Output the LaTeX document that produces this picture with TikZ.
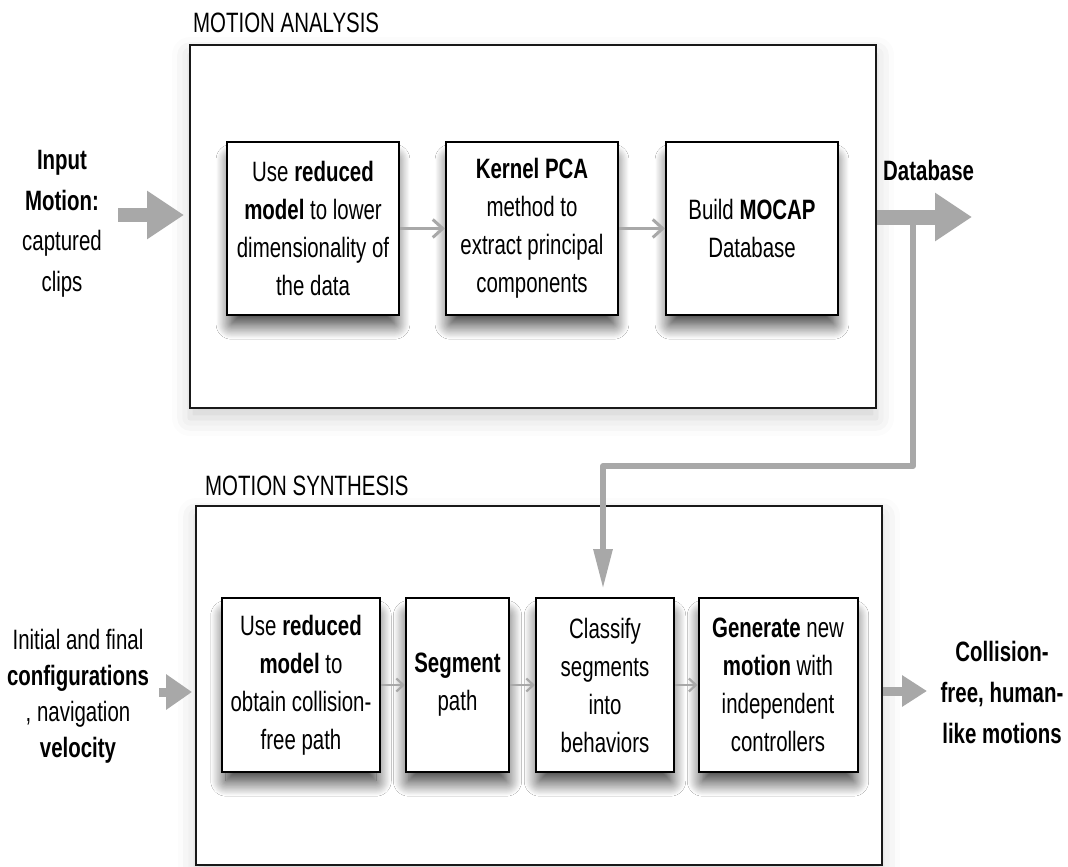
\documentclass[tikz,border=0pt]{standalone}
\usepackage{fontspec}
\setmainfont[FakeStretch=0.73]{Liberation Sans}
\usetikzlibrary{arrows.meta,shadows.blur}
\definecolor{arrgray}{RGB}{168,168,168}
\begin{document}
\begin{tikzpicture}[x=1pt,y=-1pt,
  txt/.style={font=\fontsize{28}{38}\selectfont, align=center, inner sep=0pt},
  stepbox/.style={txt, draw=black, line width=2pt, fill=white,
    blur shadow={shadow xshift=0pt, shadow yshift=-14pt, shadow scale=0.95,
      shadow blur radius=16pt, shadow blur steps=24, shadow opacity=85}},
  outerbox/.style={draw=black!90, line width=2pt, fill=white, inner sep=0pt,
    minimum width=686pt,
    blur shadow={shadow xshift=0pt, shadow yshift=-10pt, shadow blur radius=18pt, shadow opacity=18}},
  grouplabel/.style={font=\fontsize{28}{30}\selectfont, anchor=base west, inner sep=0pt},
  thinarrow/.style={draw=arrgray, line width=3pt, -{Straight Barb[length=10pt,width=18pt]}},
  smallarrow/.style={draw=arrgray, line width=2.2pt, -{Straight Barb[length=7pt,width=13pt]}},
]
\useasboundingbox (0,0) rectangle (1068,867);

% outer boxes
\node[outerbox, minimum height=363pt] (MA) at (533,226.5) {};
\node[outerbox, minimum height=359pt] (MS) at (539,685.5) {};
\node[grouplabel] (MAlabel) at (193,33) {MOTION ANALYSIS};
\node[grouplabel] (MSlabel) at (205,495) {MOTION SYNTHESIS};

% analysis steps
\node[stepbox, minimum width=172pt, minimum height=173pt] (A) at (313,228.5)
  {Use \textbf{reduced}\\\textbf{model} to lower\\dimensionality of\\the data};
\node[stepbox, minimum width=172pt, minimum height=173pt] (B) at (532,228.5)
  {\textbf{Kernel PCA}\\method to\\extract principal\\components};
\node[stepbox, minimum width=172pt, minimum height=173pt] (C) at (752,228.5)
  {Build \textbf{MOCAP}\\Database};

% synthesis steps
\node[stepbox, minimum width=158pt, minimum height=174pt] (D) at (301,685)
  {Use \textbf{reduced}\\\textbf{model} to\\obtain collision-\\free path};
\node[stepbox, minimum width=103pt, minimum height=174pt] (E) at (457.5,685)
  {\textbf{Segment}\\path};
\node[stepbox, minimum width=138pt, minimum height=174pt] (F) at (605,685)
  {Classify\\segments\\into\\behaviors};
\node[stepbox, minimum width=159pt, minimum height=174pt] (G) at (778,685)
  {\textbf{Generate} new\\\textbf{motion} with\\independent\\controllers};

% side texts
\node[txt, font=\fontsize{28}{40.5}\selectfont] (inA) at (62,224)
  {\textbf{Input}\\\textbf{Motion:}\\captured\\clips};
\node[txt, font=\fontsize{28}{36}\selectfont] (inS) at (78,696)
  {Initial and final\\\textbf{configurations}\\, navigation\\\textbf{velocity}};
\node[txt, font=\fontsize{28}{41}\selectfont\bfseries] (outS) at (1002,692)
  {Collision-\\free, human-\\like motions};
\node[txt, font=\fontsize{28}{30}\selectfont\bfseries, anchor=west] (db) at (883,170) {Database};

% thin arrows
\draw[thinarrow] (A.east) -- (B.west);
\draw[thinarrow] (B.east) -- (C.west);
\draw[smallarrow] (D.east) -- (E.west);
\draw[smallarrow] (E.east) -- (F.west);
\draw[smallarrow] (F.east) -- (G.west);

% big arrows
\coordinate (inAstart) at (118,215);
\coordinate (dbtip) at (972,217);
\coordinate (inSstart) at (159,692);
\coordinate (outtip) at (927,691);
\draw[draw=arrgray, line width=14pt, -{Triangle[length=37pt,width=46pt]}, shorten >=5pt]
  (inAstart) -- (MA.west |- inAstart);
\draw[draw=arrgray, line width=15pt, -{Triangle[length=37pt,width=46pt]}]
  (MA.east |- dbtip) -- (dbtip);
\draw[draw=arrgray, line width=9pt, -{Triangle[length=26pt,width=34pt]}, shorten >=3pt]
  (inSstart) -- (MS.west |- inSstart);
\draw[draw=arrgray, line width=9pt, -{Triangle[length=25pt,width=30pt]}]
  (MS.east |- outtip) -- (outtip);

% database feedback connector
\coordinate (dbsplit) at (913,222);
\coordinate (bend) at (603,466);
\draw[draw=arrgray, line width=6pt, line join=round, -{Triangle[length=40pt,width=18pt]}, shorten >=8pt]
  (dbsplit) |- (bend) -- (bend |- F.north);
\end{tikzpicture}
\end{document}
